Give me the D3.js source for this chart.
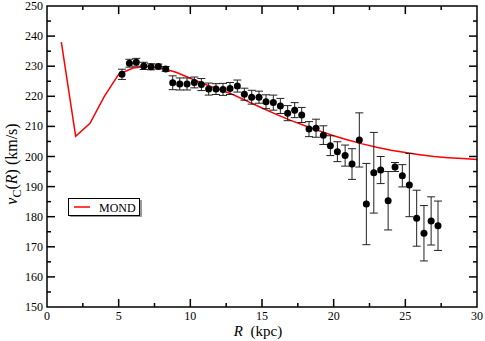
<!DOCTYPE html>
<html>
<head>
<meta charset="UTF-8">
<style>
  body { margin: 0; background: #fff; }
  text { font-family: "Liberation Serif", "DejaVu Serif", serif; }
</style>
</head>
<body>
<svg id="chart" width="485" height="341"></svg>
<script src="https://cdn.jsdelivr.net/npm/d3@7"></script>
<script>
// observed rotation curve
const radius = [5.23, 5.75, 6.23, 6.75, 7.26, 7.77, 8.28, 8.77, 9.26, 9.77,
  10.28, 10.77, 11.28, 11.79, 12.28, 12.77, 13.28, 13.77, 14.28, 14.79,
  15.28, 15.79, 16.28, 16.79, 17.28, 17.77, 18.28, 18.77, 19.28, 19.77,
  20.26, 20.80, 21.28, 21.79, 22.28, 22.80, 23.28, 23.80, 24.28, 24.79,
  25.28, 25.79, 26.30, 26.80, 27.28];
const velocity = [227.3, 231.0, 231.3, 230.1, 229.8, 229.9, 229.1, 224.5, 224.1, 224.1,
  224.6, 223.9, 222.4, 222.4, 222.3, 222.6, 223.4, 220.7, 219.7, 219.7,
  218.2, 217.9, 216.8, 214.4, 215.4, 213.8, 209.1, 209.4, 207.1, 203.6,
  201.6, 200.3, 197.5, 205.5, 184.2, 194.6, 195.5, 185.3, 196.5, 193.6,
  190.5, 179.5, 174.5, 178.6, 177.0];
const velErr = [1.7, 1.3, 1.3, 1.2, 1.0, 0.8, 0.8, 2.3, 2.0, 2.0,
  1.8, 2.0, 2.0, 1.8, 2.0, 2.0, 2.0, 2.0, 2.3, 2.0,
  2.3, 2.5, 2.5, 2.5, 2.5, 2.5, 2.5, 3.0, 3.1, 3.3,
  3.3, 3.5, 5.1, 9.0, 13.5, 13.4, 4.5, 9.7, 1.5, 3.7,
  10.5, 9.3, 9.2, 8.0, 8.2];

// MOND prediction
const mondR = [1, 2, 3, 4, 5, 6, 7, 8, 9, 10, 11, 12, 13, 14, 15,
  16, 17, 18, 19, 20, 21, 22, 23, 24, 25, 26, 27, 28, 29, 30];
const mondV = [238.0, 206.7, 211.0, 220.0, 227.3, 229.4, 230.0, 229.3, 228.0, 226.0,
  224.0, 222.3, 220.5, 218.3, 216.1, 214.0, 212.0, 210.2, 208.5, 206.9,
  205.5, 204.2, 203.1, 202.1, 201.3, 200.6, 200.0, 199.6, 199.3, 199.0];

const xTicks = [0, 5, 10, 15, 20, 25, 30];
const yTicks = [150, 160, 170, 180, 190, 200, 210, 220, 230, 240, 250];

const svg = d3.select("#chart");
const m = { left: 47, right: 477, top: 6, bottom: 307 };

const x = d3.scaleLinear().domain([0, 30]).range([m.left, m.right]);
const y = d3.scaleLinear().domain([150, 250]).range([m.bottom, m.top]);

const pts = radius.map((r, i) => ({ r: r, v: velocity[i], e: velErr[i] }));

// MOND curve
svg.append("path")
  .datum(mondR.map((r, i) => [r, mondV[i]]))
  .attr("fill", "none")
  .attr("stroke", "#ff0000")
  .attr("stroke-width", 1.5)
  .attr("d", d3.line().x(d => x(d[0])).y(d => y(d[1])));

// error bars
const eb = svg.append("g").attr("stroke", "#222").attr("stroke-width", 1);
eb.selectAll("line.bar").data(pts).enter().append("line")
  .attr("x1", d => x(d.r)).attr("x2", d => x(d.r))
  .attr("y1", d => y(d.v + d.e)).attr("y2", d => y(d.v - d.e));
eb.selectAll("line.top").data(pts).enter().append("line")
  .attr("x1", d => x(d.r) - 4).attr("x2", d => x(d.r) + 4)
  .attr("y1", d => y(d.v + d.e)).attr("y2", d => y(d.v + d.e));
eb.selectAll("line.bot").data(pts).enter().append("line")
  .attr("x1", d => x(d.r) - 4).attr("x2", d => x(d.r) + 4)
  .attr("y1", d => y(d.v - d.e)).attr("y2", d => y(d.v - d.e));

// markers
svg.append("g").selectAll("circle").data(pts).enter().append("circle")
  .attr("cx", d => x(d.r)).attr("cy", d => y(d.v))
  .attr("r", 3.5).attr("fill", "#000");

// frame and ticks
const axisG = svg.append("g").attr("stroke", "#000").attr("stroke-width", 1.5);
axisG.append("rect")
  .attr("x", m.left).attr("y", m.top)
  .attr("width", m.right - m.left).attr("height", m.bottom - m.top)
  .attr("fill", "none");

const xMinor = d3.range(2.5, 30, 5);
const yMinor = d3.range(155, 250, 10);

function xt(vals, len) {
  vals.forEach(v => {
    axisG.append("line").attr("x1", x(v)).attr("x2", x(v)).attr("y1", m.bottom).attr("y2", m.bottom - len);
    axisG.append("line").attr("x1", x(v)).attr("x2", x(v)).attr("y1", m.top).attr("y2", m.top + len);
  });
}
function yt(vals, len) {
  vals.forEach(v => {
    axisG.append("line").attr("x1", m.left).attr("x2", m.left + len).attr("y1", y(v)).attr("y2", y(v));
    axisG.append("line").attr("x1", m.right).attr("x2", m.right - len).attr("y1", y(v)).attr("y2", y(v));
  });
}
xt(xTicks.slice(1, -1), 8);
xt(xMinor, 4);
yt(yTicks.slice(1, -1), 8);
yt(yMinor, 4);

// tick labels
svg.append("g").selectAll("text").data(xTicks).enter().append("text")
  .attr("x", d => x(d)).attr("y", 320)
  .attr("text-anchor", "middle").attr("font-size", 12)
  .text(d => d);
svg.append("g").selectAll("text").data(yTicks).enter().append("text")
  .attr("x", 43).attr("y", d => y(d) + 4)
  .attr("text-anchor", "end").attr("font-size", 12)
  .text(d => d);

// axis titles
const xl = svg.append("text").attr("x", 258).attr("y", 336)
  .attr("text-anchor", "middle").attr("font-size", 15);
xl.append("tspan").attr("font-style", "italic").text("R");
xl.append("tspan").text("\u00a0\u00a0(kpc)");

const yl = svg.append("text")
  .attr("transform", "translate(17,164) rotate(-90)")
  .attr("text-anchor", "middle").attr("font-size", 16);
yl.append("tspan").attr("font-style", "italic").text("v");
yl.append("tspan").attr("font-size", 12).attr("dy", 4).text("C");
yl.append("tspan").attr("dy", -4).text("(");
yl.append("tspan").attr("font-style", "italic").text("R");
yl.append("tspan").text(")\u00a0(km/s)");

// legend
const lg = svg.append("g");
lg.append("rect").attr("x", 70).attr("y", 200).attr("width", 72).attr("height", 17)
  .attr("fill", "#999");
lg.append("rect").attr("x", 68.5).attr("y", 198.5).attr("width", 71).attr("height", 17)
  .attr("fill", "#fff").attr("stroke", "#000").attr("stroke-width", 1);
lg.append("line").attr("x1", 74).attr("x2", 90).attr("y1", 207).attr("y2", 207)
  .attr("stroke", "#ff0000").attr("stroke-width", 1.5);
lg.append("text").attr("x", 99).attr("y", 211.5).attr("font-size", 12).text("MOND");
</script>
</body>
</html>
